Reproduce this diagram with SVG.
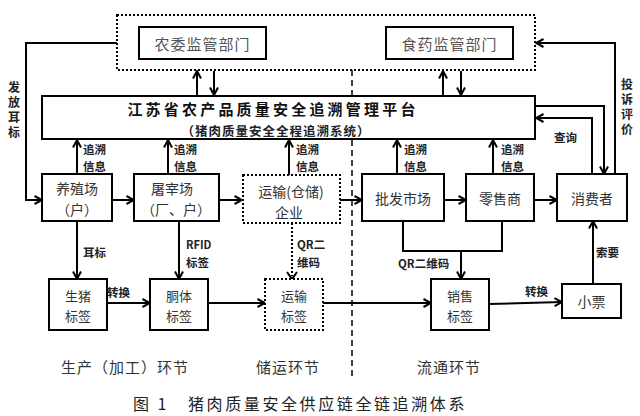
<svg xmlns="http://www.w3.org/2000/svg" width="640" height="416" viewBox="0 0 640 416">
<defs>
<marker id="ah" viewBox="0 0 10 10" refX="9" refY="5" markerWidth="10" markerHeight="10" markerUnits="userSpaceOnUse" orient="auto">
<path d="M1.5,1 L9,5 L1.5,9" fill="none" stroke="#000" stroke-width="2"/>
</marker>
<style>
.box{fill:#fff;stroke:#000;stroke-width:2}
.dot{fill:#fff;stroke:#000;stroke-width:2;stroke-dasharray:2 2}
.ln{fill:none;stroke:#000;stroke-width:2;marker-end:url(#ah)}
.pl{fill:none;stroke:#000;stroke-width:2}
.t{font-family:"Noto Sans CJK SC","Liberation Sans",sans-serif;font-size:14px;fill:#333;text-anchor:middle;dominant-baseline:central}
.tg{font-family:"Noto Sans CJK SC","Liberation Sans",sans-serif;font-size:13px;fill:#333;text-anchor:middle;dominant-baseline:central}
.g{font-family:"Noto Sans CJK SC","Liberation Sans",sans-serif;font-size:15px;fill:#555;text-anchor:middle;dominant-baseline:central;letter-spacing:1px}
.l{font-family:"Noto Sans CJK SC","Liberation Sans",sans-serif;font-size:11.5px;font-weight:bold;fill:#222;dominant-baseline:central}
.v{font-family:"Noto Sans CJK SC","Liberation Sans",sans-serif;font-size:12px;font-weight:bold;fill:#222;writing-mode:tb;letter-spacing:3px}
.s{font-family:"Noto Sans CJK SC","Liberation Sans",sans-serif;font-size:15px;fill:#333;text-anchor:middle;dominant-baseline:central}
</style>
</defs>
<rect width="640" height="416" fill="#fff"/>

<g id="connectors">
<path d="M352,70 V380" fill="none" stroke="#000" stroke-width="1.5" stroke-dasharray="6 4"/>
<path class="ln" d="M117,43 H26 V200 H42"/>
<path class="ln" d="M197,95 V71"/>
<path class="ln" d="M214,71 V95"/>
<path class="ln" d="M443,95 V71"/>
<path class="ln" d="M461,71 V95"/>
<path class="ln" d="M615,174 V43 H536"/>
<path class="ln" d="M535,106 H604 V174"/>
<path class="ln" d="M592,174 V118 H536"/>
<path class="ln" d="M77,174 V140"/>
<path class="ln" d="M168,174 V140"/>
<path class="ln" d="M289,175 V140"/>
<path class="ln" d="M397,174 V140"/>
<path class="ln" d="M493,174 V140"/>
<path class="ln" d="M112,200 H134"/>
<path class="ln" d="M219,200 H242"/>
<path class="ln" d="M340,200 H362"/>
<path class="ln" d="M444,200 H466"/>
<path class="ln" d="M534,200 H557"/>
<path class="ln" d="M77,221 V279"/>
<path class="ln" d="M179,221 V279"/>
<path d="M292,223 V276" fill="none" stroke="#000" stroke-width="2" stroke-dasharray="2 2"/>
<path d="M287,272 L292,279 L297,272" fill="none" stroke="#000" stroke-width="2"/>
<path class="pl" d="M403,221 V251 H502 V221"/>
<path class="ln" d="M461,251 V279"/>
<path class="ln" d="M593,284 V221"/>
<path class="ln" d="M107,303 H150"/>
<path class="ln" d="M208,303 H265"/>
<path class="ln" d="M323,303 H431"/>
<path class="ln" d="M489,304 L562,302"/>
</g>

<g id="supervision">
<rect class="dot" x="117" y="15" width="418" height="55"/>
</g>
<g id="nongwei">
<rect class="box" x="139" y="27" width="127" height="32"/>
<text class="g" x="202.5" y="43">农委监管部门</text>
</g>
<g id="shiyao">
<rect class="box" x="386" y="27" width="127" height="32"/>
<text class="g" x="449.5" y="43">食药监管部门</text>
</g>

<g id="platform">
<rect class="box" x="42" y="96" width="493" height="43"/>
<text x="273" y="108" font-family="'Noto Sans CJK SC','Liberation Sans',sans-serif" font-size="15" font-weight="bold" fill="#111" text-anchor="middle" dominant-baseline="central" letter-spacing="3.2">江苏省农产品质量安全追溯管理平台</text>
<text x="276" y="130" font-family="'Noto Sans CJK SC','Liberation Sans',sans-serif" font-size="12.5" font-weight="bold" fill="#222" text-anchor="middle" dominant-baseline="central" letter-spacing="1">（猪肉质量安全全程追溯系统）</text>
</g>

<g id="farm">
<rect class="box" x="42" y="174" width="70" height="47"/>
<text class="t"><tspan x="77" y="188">养殖场</tspan><tspan x="77" y="209">（户）</tspan></text>
</g>
<g id="slaughter">
<rect class="box" x="134" y="174" width="85" height="47"/>
<text class="t"><tspan x="172" y="188">屠宰场</tspan><tspan x="176" y="209">（厂、户）</tspan></text>
</g>
<g id="transport">
<rect class="dot" x="243" y="175" width="97" height="48"/>
<text class="t"><tspan x="291" y="191">运输(仓储)</tspan><tspan x="289" y="212">企业</tspan></text>
</g>
<g id="wholesale">
<rect class="box" x="362" y="174" width="82" height="47"/>
<text class="t" x="403" y="198">批发市场</text>
</g>
<g id="retail">
<rect class="box" x="466" y="174" width="68" height="47"/>
<text class="t" x="500" y="198">零售商</text>
</g>
<g id="consumer">
<rect class="box" x="557" y="174" width="70" height="47"/>
<text class="t" x="592" y="198">消费者</text>
</g>

<g id="pig-tag">
<rect class="box" x="49" y="279" width="58" height="51"/>
<text class="tg"><tspan x="78" y="295">生猪</tspan><tspan x="78" y="314.5">标签</tspan></text>
</g>
<g id="carcass-tag">
<rect class="box" x="150" y="279" width="58" height="51"/>
<text class="tg"><tspan x="179" y="295">胴体</tspan><tspan x="179" y="314.5">标签</tspan></text>
</g>
<g id="transport-tag">
<rect class="dot" x="265" y="279" width="58" height="51"/>
<text class="tg"><tspan x="294" y="295">运输</tspan><tspan x="294" y="314.5">标签</tspan></text>
</g>
<g id="sale-tag">
<rect class="box" x="431" y="279" width="58" height="51"/>
<text class="tg"><tspan x="460" y="295">销售</tspan><tspan x="460" y="314.5">标签</tspan></text>
</g>
<g id="receipt">
<rect class="box" x="562" y="284" width="59" height="34"/>
<text class="t" x="591.5" y="301">小票</text>
</g>

<g id="labels">
<text class="l"><tspan x="83" y="149">追溯</tspan><tspan x="83" y="166">信息</tspan></text>
<text class="l"><tspan x="174" y="149">追溯</tspan><tspan x="174" y="166">信息</tspan></text>
<text class="l"><tspan x="296" y="149">追溯</tspan><tspan x="296" y="166">信息</tspan></text>
<text class="l"><tspan x="404" y="149">追溯</tspan><tspan x="404" y="166">信息</tspan></text>
<text class="l"><tspan x="501" y="149">追溯</tspan><tspan x="501" y="166">信息</tspan></text>
<text class="l" x="83" y="252">耳标</text>
<text class="l"><tspan x="186" y="244" font-size="11">RFID</tspan><tspan x="186" y="262">标签</tspan></text>
<text class="l"><tspan x="297" y="244">QR二</tspan><tspan x="297" y="262">维码</tspan></text>
<text class="l" x="398" y="263" font-size="11">QR二维码</text>
<text class="l" x="596" y="252">索要</text>
<text class="l" x="107" y="292">转换</text>
<text class="l" x="525" y="291">转换</text>
<text class="l" x="554" y="137">查询</text>
<text class="v" x="14" y="81">发放耳标</text>
<text class="v" x="627" y="78">投诉评价</text>
</g>

<g id="sections">
<text class="s" x="125" y="366" letter-spacing="1">生产（加工）环节</text>
<text class="s" x="288" y="366" letter-spacing="1">储运环节</text>
<text class="s" x="449" y="366" letter-spacing="1">流通环节</text>
</g>
<text x="133" y="403" font-family="'Noto Sans CJK SC','Liberation Sans',sans-serif" font-size="16" fill="#222" dominant-baseline="central" letter-spacing="2.5">图 1</text>
<text x="188" y="403" font-family="'Noto Sans CJK SC','Liberation Sans',sans-serif" font-size="16" fill="#222" dominant-baseline="central" letter-spacing="2.6">猪肉质量安全供应链全链追溯体系</text>
</svg>
